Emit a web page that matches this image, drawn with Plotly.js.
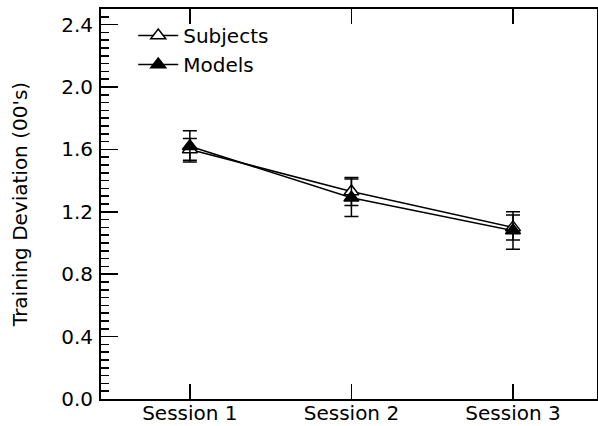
<!DOCTYPE html>
<html>
<head>
<meta charset="utf-8">
<script src="https://cdn.plot.ly/plotly-3.0.1.min.js"></script>
<style>html,body{margin:0;padding:0;background:#fff;}#chart{width:598px;height:426px;}</style>
</head>
<body>
<div id="chart"></div>
<script>
var sessions = ["Session 1", "Session 2", "Session 3"];
var subjectsMean = [1.60, 1.33, 1.10];
var subjectsErr = [0.07, 0.09, 0.08];
var modelsMean = [1.62, 1.29, 1.08];
var modelsErr = [0.10, 0.12, 0.12];
var yTickVals = [0.0, 0.4, 0.8, 1.2, 1.6, 2.0, 2.4];
var yTickText = ["0.0", "0.4", "0.8", "1.2", "1.6", "2.0", "2.4"];

var FONT = "DejaVu Sans, Arial, sans-serif";

var traces = [
  {
    name: "Subjects", x: sessions, y: subjectsMean, type: "scatter", mode: "lines+markers",
    line: {color: "#000", width: 1.5},
    marker: {symbol: "triangle-up", size: 13, color: "#fff", line: {color: "#000", width: 1.5}},
    error_y: {type: "data", array: subjectsErr, visible: true, color: "#000", thickness: 1.5, width: 7}
  },
  {
    name: "Models", x: sessions, y: modelsMean, type: "scatter", mode: "lines+markers",
    line: {color: "#000", width: 1.5},
    marker: {symbol: "triangle-up", size: 13, color: "#000", line: {color: "#000", width: 1.5}},
    error_y: {type: "data", array: modelsErr, visible: true, color: "#000", thickness: 1.5, width: 7}
  }
];

var layout = {
  width: 598, height: 426,
  margin: {l: 101, r: 1, t: 9, b: 27, pad: 0},
  paper_bgcolor: "#fff", plot_bgcolor: "#fff",
  font: {family: FONT, size: 20, color: "#000"},
  showlegend: true,
  legend: {x: 0.065, y: 0.982, xanchor: "left", yanchor: "top", bgcolor: "rgba(0,0,0,0)",
           font: {family: FONT, size: 20, color: "#000"}, tracegroupgap: 0, itemwidth: 40},
  xaxis: {
    type: "category", range: [-0.55, 2.52],
    showline: true, linecolor: "#000", linewidth: 2, mirror: "ticks",
    ticks: "inside", ticklen: 15, tickwidth: 1.5, tickcolor: "#000",
    showgrid: false, zeroline: false,
    tickfont: {family: FONT, size: 20, color: "#000"}, ticklabelstandoff: -5
  },
  yaxis: {
    range: [0, 2.5], tickvals: yTickVals, ticktext: yTickText,
    showline: true, linecolor: "#000", linewidth: 2, mirror: true,
    ticks: "inside", ticklen: 17, tickwidth: 1.5, tickcolor: "#000",
    minor: {dtick: 0.05, ticks: "inside", ticklen: 8, tickwidth: 1.5, tickcolor: "#000", showgrid: false},
    showgrid: false, zeroline: false,
    tickfont: {family: FONT, size: 20, color: "#000"}, ticklabelstandoff: 2,
    title: {text: "Training Deviation (00's)", font: {family: FONT, size: 20, color: "#000"}, standoff: 28}
  },
  yaxis2: {
    overlaying: "y", side: "right", anchor: "x", range: [0, 2.5],
    tickvals: yTickVals, showticklabels: false,
    showline: false, ticks: "inside", ticklen: 12, tickwidth: 1.5, tickcolor: "#000",
    minor: {dtick: 0.05, ticks: "inside", ticklen: 4, tickwidth: 1.5, tickcolor: "#000", showgrid: false},
    showgrid: false, zeroline: false
  }
};

Plotly.newPlot("chart", traces, layout, {displayModeBar: false, staticPlot: true});
</script>
</body>
</html>
